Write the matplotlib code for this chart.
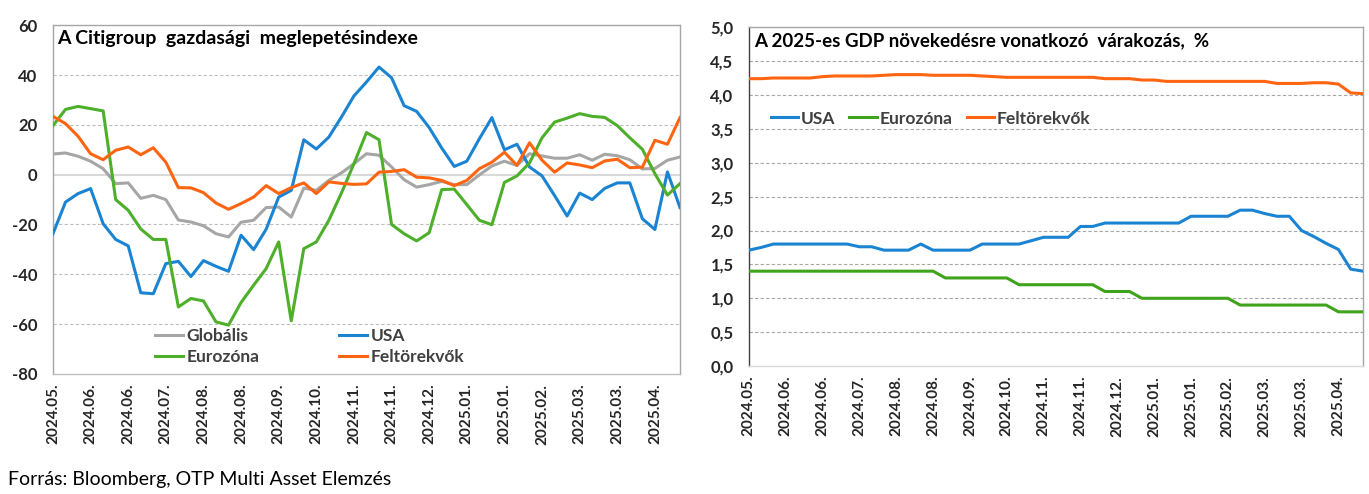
import numpy as np
import matplotlib
matplotlib.use("Agg")
import matplotlib.pyplot as plt
from matplotlib import font_manager

# pick a family that really has a bold face
fam = 'DejaVu Sans'
for cand in ['Lato', 'Roboto', 'Open Sans', 'Noto Sans']:
    weights = [f.weight for f in font_manager.fontManager.ttflist if f.name == cand]
    if any(w in ('bold', 700, 600, 'semibold', 'demibold') or (isinstance(w, int) and w >= 600)
           for w in weights):
        fam = cand
        break
plt.rcParams['font.family'] = [fam, 'DejaVu Sans']
plt.rcParams['axes.unicode_minus'] = False

# ---- data: Citigroup surprise index (weekly) ----
tick_labels = ['2024.05.', '2024.06.', '2024.06.', '2024.07.', '2024.08.', '2024.08.',
               '2024.09.', '2024.10.', '2024.11.', '2024.11.', '2024.12.', '2025.01.',
               '2025.01.', '2025.02.', '2025.03.', '2025.03.', '2025.04.']

globalis = [8.3, 8.7, 7.4, 5.4, 2.4, -3.6, -3.3, -9.5, -8.3, -10.0,
            -18.2, -19.0, -20.5, -23.7, -25.0, -19.1, -18.3, -13.2, -13.0, -17.0,
            -5.4, -6.3, -2.3, 0.7, 4.4, 8.4, 7.8, 3.1, -2.0, -5.0,
            -4.0, -2.7, -4.0, -4.0, -0.1, 3.5, 5.4, 3.7, 8.4, 7.5,
            6.6, 6.6, 8.0, 5.8, 8.2, 7.6, 6.0, 2.3, 2.5, 5.8, 7.1]
usa = [-23.7, -11.0, -7.6, -5.6, -19.7, -26.0, -28.6, -47.4, -47.8, -35.7,
       -34.8, -40.9, -34.5, -36.8, -38.8, -24.3, -30.1, -21.9, -9.0, -6.3,
       14.0, 10.3, 15.1, 23.1, 31.6, 37.2, 43.2, 38.9, 27.7, 25.4,
       18.9, 10.7, 3.3, 5.4, 14.4, 22.9, 10.0, 12.2, 3.1, -0.5,
       -8.4, -16.6, -7.4, -10.0, -5.5, -3.3, -3.3, -17.7, -22.0, 1.1, -13.2]
eurozona = [19.7, 26.2, 27.4, 26.5, 25.6, -10.0, -14.3, -21.8, -26.0, -26.0,
            -53.1, -49.7, -50.7, -59.1, -60.4, -51.3, -44.4, -37.7, -27.0, -58.7,
            -29.7, -27.0, -18.3, -7.4, 4.4, 16.9, 14.0, -20.0, -23.7, -26.6,
            -23.3, -6.0, -5.8, -12.0, -18.3, -20.1, -3.1, -0.5, 4.7, 14.8,
            21.1, 22.7, 24.5, 23.4, 23.0, 19.7, 14.8, 10.2, 0.4, -8.2, -3.6]
feltorekvok = [23.4, 20.5, 15.4, 8.4, 6.0, 9.8, 11.1, 8.0, 10.8, 5.0,
               -5.2, -5.3, -7.2, -11.4, -13.9, -11.6, -9.0, -4.4, -7.6, -5.2,
               -3.3, -7.6, -2.9, -3.5, -3.9, -3.7, 1.0, 1.3, 2.0, -1.0,
               -1.3, -2.3, -4.4, -2.3, 2.4, 5.0, 9.0, 3.7, 12.8, 5.8,
               1.0, 4.7, 3.9, 2.8, 5.5, 6.2, 2.8, 3.0, 13.8, 12.2, 22.9]

# ---- data: 2025 GDP growth expectations, % ----
gdp_usa = [1.71, 1.75, 1.80, 1.80, 1.80, 1.80, 1.80, 1.80, 1.80, 1.76,
           1.76, 1.71, 1.71, 1.71, 1.80, 1.71, 1.71, 1.71, 1.71, 1.80,
           1.80, 1.80, 1.80, 1.85, 1.90, 1.90, 1.90, 2.06, 2.06, 2.11,
           2.11, 2.11, 2.11, 2.11, 2.11, 2.11, 2.21, 2.21, 2.21, 2.21,
           2.30, 2.30, 2.25, 2.21, 2.21, 2.00, 1.91, 1.81, 1.72, 1.43, 1.40]
gdp_eurozona = [1.40] * 16 + [1.30] * 6 + [1.20] * 7 + [1.10] * 3 + \
               [1.00] * 8 + [0.90] * 8 + [0.80] * 3
gdp_feltorekvok = [4.24, 4.24, 4.25, 4.25, 4.25, 4.25, 4.27, 4.28, 4.28, 4.28,
                   4.28, 4.29, 4.30, 4.30, 4.30, 4.29, 4.29, 4.29, 4.29, 4.28,
                   4.27, 4.26, 4.26, 4.26, 4.26, 4.26, 4.26, 4.26, 4.26, 4.24,
                   4.24, 4.24, 4.22, 4.22, 4.20, 4.20, 4.20, 4.20, 4.20, 4.20,
                   4.20, 4.20, 4.20, 4.17, 4.17, 4.17, 4.18, 4.18, 4.16, 4.03, 4.02]

GRAY = '#A6A6A6'
BLUE = '#1B84D2'
GREEN = '#4DAF2A'
GREEN2 = '#3FA31C'
ORANGE = '#FF6511'
TXT = '#262626'

fig = plt.figure(figsize=(13.69, 4.94), dpi=100)
ax1 = fig.add_axes([0.0387, 0.243, 0.458, 0.706])
ax2 = fig.add_axes([0.547, 0.259, 0.4486, 0.686])

x = np.arange(len(usa))
lw = 2.2

# ======= LEFT CHART ====== #
ax1.axhline(0, color='#D9D9D9', lw=1.5, zorder=1)
l_g, = ax1.plot(x, globalis, color=GRAY, lw=lw, label='Globális', zorder=3)
l_u, = ax1.plot(x, usa, color=BLUE, lw=lw, label='USA', zorder=3)
l_e, = ax1.plot(x, eurozona, color=GREEN, lw=lw, label='Eurozóna', zorder=3)
l_f, = ax1.plot(x, feltorekvok, color=ORANGE, lw=lw, label='Feltörekvők', zorder=4)
ax1.set_ylim(-80, 60)
ax1.set_yticks(np.arange(-80, 61, 20))
for yv in [-60, -40, -20, 20, 40]:
    ax1.axhline(yv, color='#BFBFBF', lw=0.8, ls=(0, (3, 2)), zorder=0)
ax1.set_xlim(0, len(usa) - 1)
ax1.set_xticks(x[::3])
ax1.set_xticklabels(tick_labels, rotation=90)
ax1.text(0.007, 0.985, 'A Citigroup  gazdasági  meglepetésindexe', transform=ax1.transAxes,
         fontsize=14, fontweight='bold', color='black', va='top', ha='left')
ax1.legend(handles=[l_g, l_e, l_u, l_f], ncol=2, loc='lower left',
           bbox_to_anchor=(0.138, -0.02), frameon=False,
           handlelength=1.6, handletextpad=0.2, columnspacing=4.6,
           labelspacing=0.3, labelcolor='#404040', prop={'weight': 'bold', 'size': 12.5})

# ======= RIGHT CHART ====== #
ax2.plot(x, gdp_usa, color=BLUE, lw=lw, label='USA', zorder=3)
ax2.plot(x, gdp_eurozona, color=GREEN2, lw=lw, label='Eurozóna', zorder=3)
ax2.plot(x, gdp_feltorekvok, color=ORANGE, lw=lw, label='Feltörekvők', zorder=3)
ax2.set_ylim(0, 5)
ax2.set_yticks(np.arange(0, 5.01, 0.5))
ax2.set_yticklabels([f'{v:.1f}'.replace('.', ',') for v in np.arange(0, 5.01, 0.5)])
for yv in np.arange(0.5, 4.51, 0.5):
    ax2.axhline(yv, color='#A6A6A6', lw=0.8, ls=(0, (3, 2)), zorder=0)
ax2.set_xlim(0, len(usa) - 1)
ax2.set_xticks(x[::3])
ax2.set_xticklabels(tick_labels, rotation=90)
ax2.text(0.009, 0.985, 'A 2025-es GDP növekedésre vonatkozó  várakozás,  %', transform=ax2.transAxes,
         fontsize=13.5, fontweight='bold', color='black', va='top', ha='left')
ax2.legend(loc='upper left', bbox_to_anchor=(0.01, 0.80), ncol=3, frameon=False,
           handlelength=1.6, handletextpad=0.15, columnspacing=0.8,
           labelcolor='#404040', prop={'weight': 'bold', 'size': 12.5})

for ax in (ax1, ax2):
    ax.tick_params(axis='y', length=0, pad=11, labelsize=12, labelcolor=TXT)
    ax.tick_params(axis='x', length=0, pad=7, labelsize=11, labelcolor=TXT)
    for lab in ax.get_xticklabels() + ax.get_yticklabels():
        lab.set_fontweight('bold')
    for s in ax.spines.values():
        s.set_color('#A6A6A6')
        s.set_linewidth(1.0)
ax2.spines['left'].set_color('#404040')
ax2.spines['bottom'].set_color('#D9D9D9')
ax1.spines['bottom'].set_color('#BFBFBF')

fig.text(0.006, 0.012, 'Forrás: Bloomberg, OTP Multi Asset Elemzés', fontsize=14,
         color='black', ha='left', va='bottom', family=['Lato', 'DejaVu Sans'])

fig.savefig('out.png', dpi=100)
